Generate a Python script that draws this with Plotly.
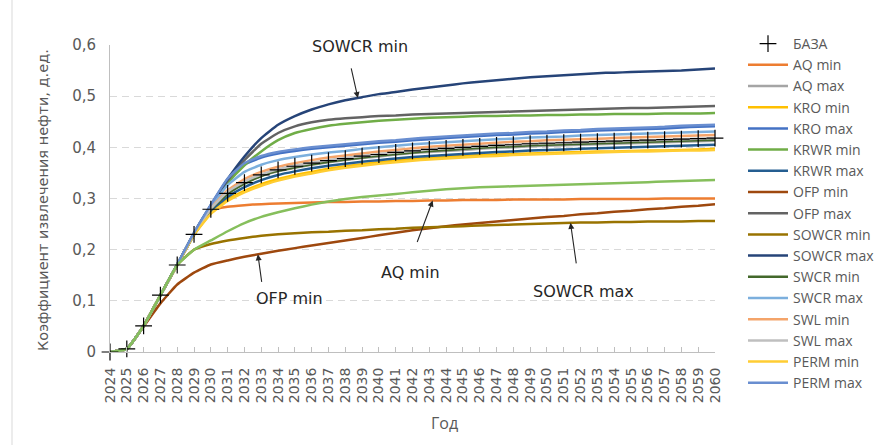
import numpy as np
import plotly.graph_objects as go

years = list(range(2024, 2061))
year_labels = [str(y) for y in years]
y_ticks = [0, 0.1, 0.2, 0.3, 0.4, 0.5, 0.6]
y_tick_labels = ["0", "0,1", "0,2", "0,3", "0,4", "0,5", "0,6"]

base = [0.000, 0.006, 0.051, 0.111, 0.170, 0.230, 0.279, 0.310, 0.331, 0.346, 0.356, 0.363, 0.369, 0.374, 0.378, 0.383, 0.386, 0.390, 0.393, 0.396, 0.398, 0.400, 0.402, 0.404, 0.405, 0.407, 0.408, 0.409, 0.410, 0.411, 0.412, 0.413, 0.414, 0.415, 0.416, 0.417, 0.418]
aq_min = [0.000, 0.006, 0.051, 0.111, 0.170, 0.230, 0.277, 0.284, 0.287, 0.289, 0.290, 0.291, 0.292, 0.293, 0.293, 0.294, 0.294, 0.295, 0.295, 0.296, 0.296, 0.297, 0.297, 0.297, 0.298, 0.298, 0.298, 0.298, 0.299, 0.299, 0.299, 0.299, 0.299, 0.300, 0.300, 0.300, 0.300]
aq_max = [0.000, 0.006, 0.051, 0.111, 0.170, 0.230, 0.280, 0.311, 0.330, 0.344, 0.353, 0.360, 0.366, 0.371, 0.375, 0.379, 0.382, 0.386, 0.389, 0.391, 0.393, 0.395, 0.397, 0.399, 0.400, 0.402, 0.403, 0.404, 0.405, 0.406, 0.407, 0.408, 0.409, 0.410, 0.411, 0.412, 0.413]
kro_min = [0.000, 0.006, 0.051, 0.111, 0.170, 0.229, 0.272, 0.298, 0.315, 0.328, 0.338, 0.346, 0.352, 0.358, 0.363, 0.367, 0.371, 0.374, 0.377, 0.379, 0.381, 0.383, 0.385, 0.386, 0.387, 0.388, 0.389, 0.390, 0.391, 0.392, 0.392, 0.393, 0.394, 0.394, 0.395, 0.396, 0.397]
kro_max = [0.000, 0.006, 0.051, 0.111, 0.171, 0.232, 0.286, 0.336, 0.366, 0.380, 0.388, 0.393, 0.397, 0.400, 0.403, 0.406, 0.409, 0.411, 0.414, 0.416, 0.418, 0.420, 0.422, 0.424, 0.425, 0.427, 0.428, 0.430, 0.431, 0.433, 0.434, 0.435, 0.436, 0.437, 0.439, 0.440, 0.441]
krwr_min = [0.000, 0.006, 0.051, 0.111, 0.171, 0.232, 0.285, 0.330, 0.365, 0.392, 0.414, 0.428, 0.436, 0.442, 0.446, 0.449, 0.452, 0.454, 0.456, 0.458, 0.459, 0.460, 0.461, 0.461, 0.462, 0.462, 0.463, 0.463, 0.464, 0.464, 0.465, 0.465, 0.465, 0.466, 0.466, 0.466, 0.467]
krwr_max = [0.000, 0.006, 0.051, 0.111, 0.170, 0.229, 0.276, 0.303, 0.322, 0.336, 0.346, 0.353, 0.359, 0.364, 0.368, 0.372, 0.375, 0.378, 0.381, 0.383, 0.385, 0.387, 0.389, 0.391, 0.392, 0.394, 0.395, 0.396, 0.397, 0.398, 0.399, 0.400, 0.401, 0.402, 0.403, 0.404, 0.405]
ofp_min = [0.000, 0.006, 0.050, 0.095, 0.132, 0.155, 0.171, 0.179, 0.186, 0.192, 0.198, 0.203, 0.208, 0.213, 0.218, 0.223, 0.228, 0.233, 0.238, 0.242, 0.246, 0.249, 0.252, 0.255, 0.258, 0.261, 0.264, 0.266, 0.269, 0.271, 0.274, 0.276, 0.279, 0.281, 0.284, 0.286, 0.289]
ofp_max = [0.000, 0.006, 0.051, 0.111, 0.171, 0.232, 0.286, 0.335, 0.375, 0.407, 0.428, 0.441, 0.449, 0.454, 0.457, 0.459, 0.461, 0.462, 0.464, 0.465, 0.466, 0.467, 0.468, 0.469, 0.470, 0.471, 0.472, 0.473, 0.474, 0.475, 0.476, 0.477, 0.477, 0.478, 0.479, 0.480, 0.481]
sowcr_min = [0.000, 0.006, 0.051, 0.111, 0.170, 0.200, 0.211, 0.218, 0.223, 0.227, 0.230, 0.232, 0.234, 0.235, 0.237, 0.238, 0.240, 0.241, 0.243, 0.244, 0.245, 0.246, 0.247, 0.248, 0.249, 0.250, 0.251, 0.252, 0.253, 0.253, 0.254, 0.254, 0.255, 0.255, 0.255, 0.256, 0.256]
sowcr_max = [0.000, 0.006, 0.051, 0.111, 0.171, 0.233, 0.287, 0.338, 0.382, 0.418, 0.444, 0.461, 0.474, 0.484, 0.492, 0.498, 0.504, 0.508, 0.513, 0.517, 0.521, 0.525, 0.528, 0.531, 0.534, 0.537, 0.539, 0.541, 0.543, 0.545, 0.546, 0.547, 0.548, 0.549, 0.550, 0.552, 0.554]
swcr_min = [0.000, 0.006, 0.051, 0.111, 0.170, 0.230, 0.279, 0.309, 0.329, 0.344, 0.354, 0.361, 0.367, 0.372, 0.376, 0.380, 0.384, 0.387, 0.390, 0.393, 0.395, 0.397, 0.399, 0.401, 0.402, 0.404, 0.405, 0.406, 0.407, 0.408, 0.409, 0.410, 0.411, 0.412, 0.413, 0.414, 0.415]
swcr_max = [0.000, 0.006, 0.051, 0.111, 0.171, 0.232, 0.284, 0.326, 0.352, 0.366, 0.375, 0.381, 0.386, 0.390, 0.393, 0.397, 0.400, 0.403, 0.406, 0.408, 0.410, 0.412, 0.414, 0.416, 0.417, 0.419, 0.420, 0.421, 0.423, 0.424, 0.425, 0.426, 0.427, 0.428, 0.429, 0.430, 0.431]
swl_min = [0.000, 0.006, 0.051, 0.111, 0.170, 0.231, 0.281, 0.316, 0.338, 0.352, 0.362, 0.369, 0.375, 0.380, 0.384, 0.388, 0.392, 0.395, 0.398, 0.401, 0.403, 0.405, 0.407, 0.409, 0.411, 0.412, 0.414, 0.415, 0.416, 0.417, 0.418, 0.419, 0.420, 0.421, 0.422, 0.423, 0.424]
swl_max = [0.000, 0.006, 0.051, 0.111, 0.170, 0.230, 0.280, 0.313, 0.333, 0.347, 0.357, 0.364, 0.370, 0.375, 0.379, 0.383, 0.387, 0.390, 0.393, 0.396, 0.398, 0.400, 0.402, 0.404, 0.405, 0.407, 0.408, 0.409, 0.410, 0.411, 0.412, 0.413, 0.414, 0.415, 0.416, 0.417, 0.418]
perm_min = [0.000, 0.006, 0.051, 0.111, 0.170, 0.229, 0.270, 0.295, 0.312, 0.325, 0.335, 0.343, 0.349, 0.355, 0.360, 0.364, 0.368, 0.371, 0.374, 0.376, 0.378, 0.380, 0.382, 0.383, 0.385, 0.386, 0.387, 0.388, 0.389, 0.390, 0.391, 0.392, 0.392, 0.393, 0.394, 0.394, 0.395]
perm_max = [0.000, 0.006, 0.051, 0.111, 0.171, 0.233, 0.288, 0.339, 0.369, 0.383, 0.391, 0.396, 0.400, 0.403, 0.406, 0.409, 0.412, 0.414, 0.417, 0.419, 0.421, 0.423, 0.425, 0.427, 0.428, 0.430, 0.431, 0.433, 0.434, 0.436, 0.437, 0.438, 0.439, 0.440, 0.442, 0.443, 0.444]
unlabeled = [0.000, 0.006, 0.051, 0.111, 0.170, 0.200, 0.218, 0.236, 0.252, 0.264, 0.273, 0.281, 0.288, 0.294, 0.299, 0.303, 0.306, 0.309, 0.312, 0.315, 0.318, 0.320, 0.322, 0.323, 0.324, 0.325, 0.326, 0.327, 0.328, 0.329, 0.330, 0.331, 0.332, 0.333, 0.334, 0.335, 0.336]

series = [
    ("AQ min", aq_min, "#ED7D31"),
    ("AQ max", aq_max, "#A5A5A5"),
    ("KRO min", kro_min, "#FFC000"),
    ("KRO max", kro_max, "#4472C4"),
    ("KRWR min", krwr_min, "#70AD47"),
    ("KRWR max", krwr_max, "#255E91"),
    ("OFP min", ofp_min, "#9E480E"),
    ("OFP max", ofp_max, "#636363"),
    ("SOWCR min", sowcr_min, "#997300"),
    ("SOWCR max", sowcr_max, "#264478"),
    ("SWCR min", swcr_min, "#43682B"),
    ("SWCR max", swcr_max, "#7CAFDD"),
    ("SWL min", swl_min, "#F4A46A"),
    ("SWL max", swl_max, "#BFBFBF"),
    ("PERM min", perm_min, "#FFCD33"),
    ("PERM max", perm_max, "#698ED0"),
]
for _, v, _ in series:
    assert len(v) == len(years)
assert len(base) == len(years) and len(unlabeled) == len(years)

L, R, T, B = 110, 178, 45, 93
W, H = 893, 445
PW, PH = W - L - R, H - T - B


def px(xp):
    return (xp - L) / PW


def py(yp):
    return (H - B - yp) / PH


fig = go.Figure()
for i, (name, vals, col) in enumerate(series):
    fig.add_trace(go.Scatter(x=years, y=vals, name=name, mode="lines",
                             line=dict(color=col, width=2.5, shape="spline", smoothing=0.4),
                             legendrank=i + 2, cliponaxis=False))
fig.add_trace(go.Scatter(x=years, y=unlabeled, name="", mode="lines", showlegend=False,
                         line=dict(color="#86BF5C", width=2.5, shape="spline", smoothing=0.4),
                         cliponaxis=False))
fig.add_trace(go.Scatter(x=years, y=base, name="БАЗА", mode="markers",
                         marker=dict(symbol="cross-thin", size=12, color="black",
                                     line=dict(color="black", width=1.2)),
                         legendrank=1, cliponaxis=False))

ann_font = dict(family="DejaVu Sans", size=16, color="#262626")
annotations = []


def arrow(xv, vals, ax, ay):
    yv = float(np.interp(xv, years, vals))
    annotations.append(dict(x=xv, y=yv, xref="x", yref="y", text="", showarrow=True,
                            ax=ax, ay=ay, arrowhead=2, arrowsize=1.1, arrowwidth=1.1,
                            arrowcolor="#262626", standoff=0))


arrow(2038.75, sowcr_max, -7, -31)
arrow(2032.8, ofp_min, 4, 29)
arrow(2043.2, aq_min, -16, 43)
arrow(2051.4, sowcr_min, 6, 42)

for txt, cx, cy in [("SOWCR min", 360, 46), ("OFP min", 289, 298),
                    ("AQ min", 410, 272), ("SOWCR max", 583, 291)]:
    annotations.append(dict(x=px(cx), y=py(cy), xref="paper", yref="paper", text=txt,
                            showarrow=False, font=ann_font, xanchor="center", yanchor="middle"))

annotations.append(dict(x=px(43), y=py(200), xref="paper", yref="paper",
                        text="Коэффициент извлечения нефти, д.ед.", textangle=-90,
                        showarrow=False, font=dict(family="DejaVu Sans", size=14.5, color="#595959"),
                        xanchor="center", yanchor="middle"))
annotations.append(dict(x=px(444), y=py(423), xref="paper", yref="paper", text="Год",
                        showarrow=False, font=dict(family="Open Sans", size=16, color="#595959"),
                        xanchor="center", yanchor="middle"))

fig.update_layout(
    width=W, height=H,
    margin=dict(l=L, r=R, t=T, b=B),
    paper_bgcolor="white", plot_bgcolor="white",
    showlegend=True,
    legend=dict(x=px(743), y=py(28), xanchor="left", yanchor="top",
                font=dict(family="Open Sans", size=14, color="#595959"),
                bgcolor="rgba(0,0,0,0)", itemwidth=40, traceorder="normal",
                maxheight=420),
    annotations=annotations,
    shapes=[dict(type="line", xref="paper", yref="paper", x0=px(12), x1=px(12),
                 y0=py(0), y1=py(H), line=dict(color="#D9D9D9", width=1))],
    xaxis=dict(range=[2024, 2060], tickvals=years, ticktext=year_labels, tickangle=-90,
               showgrid=False, zeroline=False, showline=True, linecolor="#BFBFBF", linewidth=1,
               ticks="inside", ticklen=5, tickcolor="#BFBFBF",
               tickfont=dict(family="DejaVu Sans", size=14, color="#595959"),
               ticklabelstandoff=9),
    yaxis=dict(range=[0, 0.6], tickvals=y_ticks, ticktext=y_tick_labels,
               showgrid=True, gridcolor="#D9D9D9", griddash="7px,5px", gridwidth=1,
               zeroline=False, showline=True, linecolor="#BFBFBF", linewidth=1,
               ticks="", tickfont=dict(family="DejaVu Sans", size=15, color="#595959"),
               ticklabelstandoff=10),
)

fig.write_html("out.html")
